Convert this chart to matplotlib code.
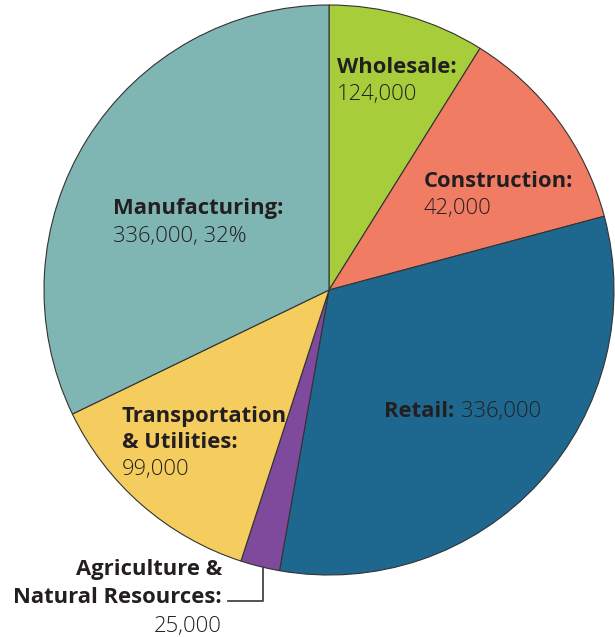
import matplotlib
matplotlib.use("Agg")
import matplotlib.pyplot as plt

# slice shares (clockwise from 12 o'clock)
sectors = ["Wholesale", "Construction", "Retail", "Agriculture & Natural Resources",
           "Transportation & Utilities", "Manufacturing"]
shares = [32.0, 43.0, 115.0, 8.0, 46.2, 115.8]
colors = ["#a8cd3b", "#f07c63", "#1e6890", "#7f4a9c", "#f5cd5f", "#7fb5b2"]

labels_bold = ["Wholesale:", "Construction:", "Retail:", "Agriculture &\nNatural Resources:",
               "Transportation\n& Utilities:", "Manufacturing:"]
labels_value = ["124,000", "42,000", "336,000", "25,000", "99,000", "336,000, 32%"]

W, H = 615, 637
cx, cy, r = 329, 290, 285
txt = "#231f20"
fam = ["Open Sans", "DejaVu Sans"]
fs = 15.8


def py(y):
    # pixel row -> data y (y up)
    return H - y


fig = plt.figure(figsize=(W / 100, H / 100), dpi=100)
ax = fig.add_axes([0, 0, 1, 1])
ax.pie(shares, colors=colors, startangle=90, counterclock=False,
       center=(cx, py(cy)), radius=r, frame=True,
       wedgeprops=dict(edgecolor="#333333", linewidth=0.8))
ax.set_xlim(0, W)
ax.set_ylim(0, H)
ax.set_aspect("auto")
ax.axis("off")


def label(x, y, s, bold=True, ha="left"):
    ax.text(x, py(y), s, ha=ha, va="baseline", fontsize=fs, color=txt,
            family=fam, fontweight="bold" if bold else "light")


# Wholesale
label(337, 73, labels_bold[0])
label(337, 100, labels_value[0], bold=False)
# Construction
label(424, 187, labels_bold[1])
label(424, 214, labels_value[1], bold=False)
# Retail
label(384, 417, labels_bold[2])
label(461, 417, labels_value[2], bold=False)
# Manufacturing
label(113, 214, labels_bold[5])
label(113, 242, labels_value[5], bold=False)
# Transportation
tl = labels_bold[4].split("\n")
label(122, 422, tl[0])
label(122, 448, tl[1])
label(122, 475, labels_value[4], bold=False)
# Agriculture (callout)
al = labels_bold[3].split("\n")
label(222, 575, al[0], ha="right")
label(222, 603, al[1], ha="right")
label(222, 632, labels_value[3], bold=False, ha="right")
ax.plot([263, 263, 228], [py(567), py(601), py(601)], color="#444444", lw=1.3)

fig.savefig("out.png", dpi=100)
